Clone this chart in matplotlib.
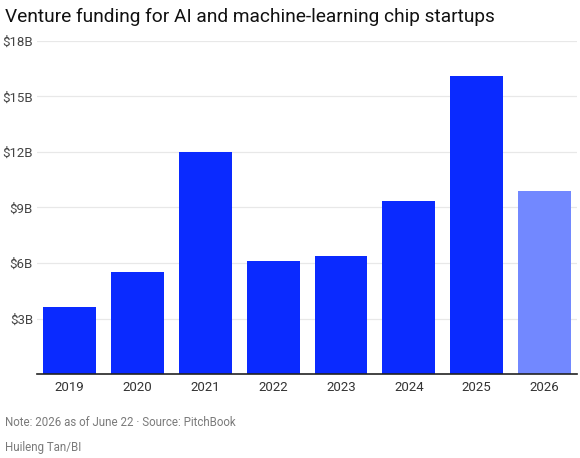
import matplotlib.pyplot as plt

plt.rcParams['font.family'] = ['Roboto', 'DejaVu Sans']

years = ['2019', '2020', '2021', '2022', '2023', '2024', '2025', '2026']
funding = [3.6, 5.5, 12.0, 6.1, 6.4, 9.35, 16.1, 9.9]
y_ticks = [3, 6, 9, 12, 15, 18]
y_labels = ['$3B', '$6B', '$9B', '$12B', '$15B', '$18B']

colors = ['#0a2aff'] * 7 + ['#7288ff']

fig = plt.figure(figsize=(5.8, 4.58), dpi=100)
ax = fig.add_axes([0.064, 0.1834, 0.931, 0.7271])

x = range(len(years))
ax.bar(x, funding, width=0.78, color=colors, zorder=2)

ax.set_xlim(-0.48, 7.48)
ax.set_ylim(0, 18)
ax.set_yticks(y_ticks)
ax.set_yticklabels(y_labels)
ax.set_xticks(list(x))
ax.set_xticklabels(years)
ax.grid(axis='y', color='#e8e8e8', linewidth=0.9, zorder=0)
for s in ['top', 'right', 'left']:
    ax.spines[s].set_visible(False)
ax.spines['bottom'].set_color('#222222')
ax.spines['bottom'].set_linewidth(1.2)
ax.tick_params(axis='y', length=0, pad=3, labelsize=9.5, labelcolor='#444444')
ax.tick_params(axis='x', length=0, pad=5, labelsize=9.5, labelcolor='#333333')

fig.text(0.009, 0.962, 'Venture funding for AI and machine-learning chip startups',
         fontsize=13.8, color='#111111', va='center')
fig.text(0.009, 0.078, 'Note: 2026 as of June 22 \u00b7 Source: PitchBook',
         fontsize=8.3, color='#7a7a7a', va='center')
fig.text(0.009, 0.022, 'Huileng Tan/BI', fontsize=8.3, color='#7a7a7a', va='center')

fig.savefig('out.png', dpi=100)
